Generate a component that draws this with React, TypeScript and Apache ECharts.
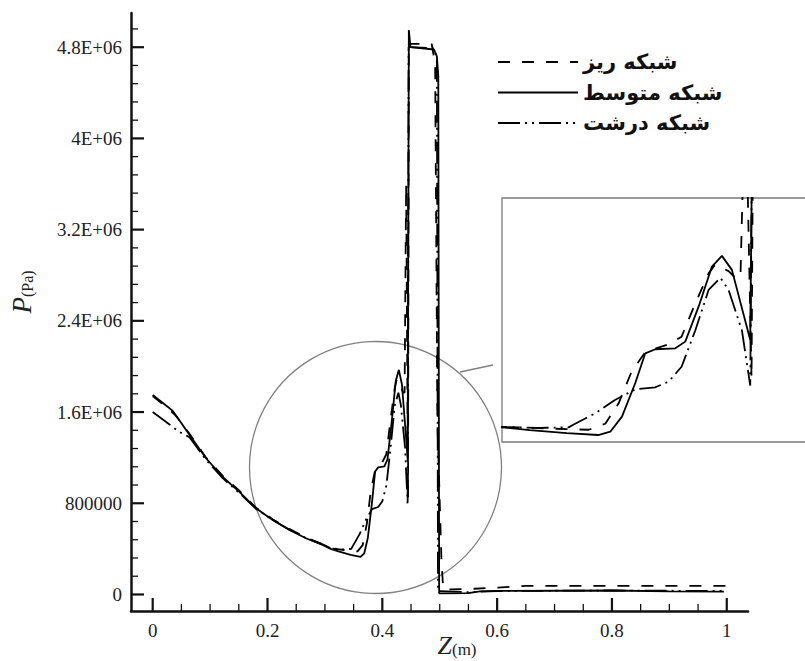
import React, { useEffect, useRef } from "react";
import * as echarts from "echarts";

// ---- data (Z in m, P in Pa) ----
const fineName = "شبکه ریز";
const mediumName = "شبکه متوسط";
const coarseName = "شبکه درشت";

const fineMesh: number[][] = [
  [0.0, 1.74e6], [0.02, 1.66e6], [0.04, 1.57e6], [0.064, 1.41e6], [0.093, 1.2e6],
  [0.122, 1.04e6], [0.151, 0.91e6], [0.18, 0.76e6], [0.209, 0.66e6], [0.238, 0.575e6],
  [0.267, 0.5e6], [0.296, 0.44e6], [0.31, 0.405e6], [0.3334, 0.39e6], [0.3568, 0.378e6],
  [0.3658, 0.433e6], [0.373, 0.62e6], [0.38, 0.91e6], [0.3874, 1.09e6], [0.4, 1.16e6],
  [0.407, 1.23e6], [0.4144, 1.535e6], [0.4216, 1.81e6], [0.4252, 1.89e6], [0.4324, 1.83e6],
  [0.436, 1.77e6], [0.4388, 1.77e6], [0.4415, 3.6e6], [0.4448, 0.85e6], [0.4462, 4.85e6],
  [0.448, 4.83e6], [0.486, 4.83e6], [0.492, 4.65e6], [0.496, 1.5e6], [0.503, 0.3e6],
  [0.506, 0.05e6], [0.515, 0.045e6], [0.56, 0.05e6], [0.6, 0.06e6], [0.65, 0.075e6],
  [1.005, 0.075e6],
];

const mediumMesh: number[][] = [
  [0.0, 1.75e6], [0.02, 1.67e6], [0.035, 1.61e6], [0.044, 1.545e6], [0.064, 1.4e6],
  [0.093, 1.195e6], [0.122, 1.03e6], [0.151, 0.9e6], [0.18, 0.756e6], [0.209, 0.653e6],
  [0.238, 0.566e6], [0.267, 0.493e6], [0.296, 0.434e6], [0.31, 0.4e6], [0.325, 0.375e6],
  [0.345, 0.348e6], [0.362, 0.33e6], [0.3685, 0.36e6], [0.3748, 0.498e6], [0.382, 0.806e6],
  [0.3874, 1.078e6], [0.3928, 1.115e6], [0.4036, 1.124e6], [0.409, 1.185e6], [0.4162, 1.505e6],
  [0.4234, 1.872e6], [0.4288, 1.97e6], [0.4342, 1.842e6], [0.4441, 1.2e6], [0.4462, 4.95e6],
  [0.449, 4.8e6], [0.49, 4.78e6], [0.495, 4.72e6], [0.4975, 4.55e6], [0.499, 0.01e6],
  [0.55, 0.012e6], [0.57, 0.028e6], [0.6, 0.032e6], [0.8, 0.035e6], [0.9, 0.028e6],
  [0.995, 0.025e6],
];

const coarseMesh: number[][] = [
  [0.0, 1.6e6], [0.027, 1.5e6], [0.045, 1.43e6], [0.064, 1.38e6], [0.093, 1.18e6],
  [0.122, 1.02e6], [0.151, 0.89e6], [0.18, 0.75e6], [0.209, 0.655e6], [0.238, 0.57e6],
  [0.267, 0.495e6], [0.296, 0.44e6], [0.31, 0.405e6], [0.33, 0.395e6], [0.346, 0.4e6],
  [0.348, 0.42e6], [0.3604, 0.529e6], [0.371, 0.65e6], [0.382, 0.749e6], [0.3928, 0.767e6],
  [0.4, 0.818e6], [0.407, 0.955e6], [0.4144, 1.287e6], [0.4216, 1.658e6], [0.428, 1.77e6],
  [0.4324, 1.658e6], [0.4396, 1.287e6], [0.4441, 0.783e6], [0.4458, 4.8e6], [0.449, 4.8e6],
  [0.49, 4.79e6], [0.495, 4.7e6], [0.497, 0.03e6], [0.55, 0.02e6], [0.6, 0.03e6],
  [0.8, 0.035e6], [1.0, 0.03e6],
];

const xTickValues = [0, 0.2, 0.4, 0.6, 0.8, 1.0];
const xTickLabels = ["0", "0.2", "0.4", "0.6", "0.8", "1"];
const xMinorValues = [0.05, 0.1, 0.15, 0.25, 0.3, 0.35, 0.45, 0.5, 0.55, 0.65, 0.7, 0.75, 0.85, 0.9, 0.95];
const yTickValues = [0, 800000, 1600000, 2400000, 3200000, 4000000, 4800000];
const yTickLabels = ["0", "800000", "1.6E+06", "2.4E+06", "3.2E+06", "4E+06", "4.8E+06"];
const yMinorValues = [
  160000, 320000, 480000, 640000, 960000, 1120000, 1280000, 1440000, 1760000, 1920000,
  2080000, 2240000, 2560000, 2720000, 2880000, 3040000, 3360000, 3520000, 3680000,
  3840000, 4160000, 4320000, 4480000, 4640000, 4960000,
];

const xRange = [-0.0378, 1.037];
const yRange = [-145000, 5100000];
const insetXRange = [0.31, 0.4753];
const insetYRange = [266000, 2500000];

const serif = "'Liberation Serif', 'Times New Roman', serif";
const sansBold = "'DejaVu Sans', sans-serif";
const dashFine = [12, 12];
const dashCoarse = [22, 5, 2, 5, 2, 5];

const legendEntries = [
  { name: fineName, dash: dashFine as number[] | null },
  { name: mediumName, dash: null },
  { name: coarseName, dash: dashCoarse as number[] | null },
];

export default function App() {
  const ref = useRef<HTMLDivElement>(null);
  useEffect(() => {
    if (!ref.current) return;
    const chart = echarts.init(ref.current, undefined, { renderer: "svg" });
    const mk = (name: string, data: number[][], type: any, idx: number) => ({
      type: "line",
      name,
      data,
      xAxisIndex: idx,
      yAxisIndex: idx,
      symbol: "none",
      clip: true,
      itemStyle: { color: "#000" },
      lineStyle: { color: "#000", width: 1.8, type },
      z: 5,
    });
    const hidden = { show: false };
    const legendGraphics: any[] = [];
    legendEntries.forEach((e, i) => {
      const y = 62 + i * 30.5;
      legendGraphics.push({
        type: "line", z: 10,
        shape: { x1: 498, y1: y, x2: 578, y2: y },
        style: { stroke: "#000", lineWidth: 1.8, lineDash: e.dash || undefined },
      });
      legendGraphics.push({
        type: "text", x: 583, y, z: 10,
        style: {
          text: e.name, align: "left", verticalAlign: "middle", fill: "#111",
          fontFamily: sansBold, fontWeight: "bold", fontSize: 21,
        },
      });
    });
    const baseGraphics: any[] = [
      {
        type: "circle", shape: { cx: 375.5, cy: 467.5, r: 126 }, z: 1,
        style: { fill: "none", stroke: "#808080", lineWidth: 1.3 },
      },
      {
        type: "line", shape: { x1: 460, y1: 372, x2: 493, y2: 365 }, z: 1,
        style: { stroke: "#808080", lineWidth: 1.3 },
      },
      ...legendGraphics,
      {
        type: "text", x: 457, y: 645, z: 10,
        style: {
          text: "{z|Z}{u|(m)}", align: "center", verticalAlign: "middle", fill: "#222",
          rich: {
            z: { fontSize: 26, fontStyle: "italic", fontFamily: serif, fill: "#222", verticalAlign: "bottom" },
            u: { fontSize: 17, fontFamily: serif, fill: "#222", verticalAlign: "bottom" },
          },
        },
      },
      {
        type: "text", x: 22, y: 292, rotation: Math.PI / 2, z: 10,
        style: {
          text: "{p|P}{u|(Pa)}", align: "center", verticalAlign: "middle", fill: "#222",
          rich: {
            p: { fontSize: 27, fontStyle: "italic", fontFamily: serif, fill: "#222", verticalAlign: "bottom" },
            u: { fontSize: 16, fontFamily: serif, fill: "#222", verticalAlign: "bottom" },
          },
        },
      },
    ];
    chart.setOption({
      animation: false,
      grid: [
        { left: 131, top: 13, width: 617, height: 598, outerBoundsMode: "none" },
        {
          left: 502, top: 198, width: 306, height: 244, show: true,
          borderColor: "#7a7a7a", borderWidth: 1.3, outerBoundsMode: "none",
        },
      ],
      xAxis: [
        {
          gridIndex: 0, type: "value", min: xRange[0], max: xRange[1],
          axisLine: { show: true, onZero: false, lineStyle: { color: "#111", width: 2.5 } },
          axisTick: hidden,
          axisLabel: {
            customValues: xTickValues, margin: 10, fontSize: 19, fontFamily: serif, color: "#222",
            formatter: (v: number) => xTickLabels[xTickValues.indexOf(v)] ?? "",
          },
          splitLine: hidden,
        },
        { gridIndex: 1, type: "value", min: insetXRange[0], max: insetXRange[1], show: false, splitLine: hidden },
      ],
      yAxis: [
        {
          gridIndex: 0, type: "value", min: yRange[0], max: yRange[1],
          axisLine: { show: true, onZero: false, lineStyle: { color: "#111", width: 2.5 } },
          axisTick: hidden,
          axisLabel: {
            customValues: yTickValues, margin: 9, fontSize: 19, fontFamily: serif, color: "#222",
            formatter: (v: number) => yTickLabels[yTickValues.indexOf(v)] ?? "",
          },
          splitLine: hidden,
        },
        { gridIndex: 1, type: "value", min: insetYRange[0], max: insetYRange[1], show: false, splitLine: hidden },
      ],
      series: [
        mk(fineName, fineMesh, dashFine, 0),
        mk(mediumName, mediumMesh, "solid", 0),
        mk(coarseName, coarseMesh, dashCoarse, 0),
        mk(fineName, fineMesh, dashFine, 1),
        mk(mediumName, mediumMesh, "solid", 1),
        mk(coarseName, coarseMesh, dashCoarse, 1),
      ],
      graphic: baseGraphics,
    });

    // tick marks placed through the axis scales (pointing into the plot, Tecplot style)
    const tickGraphics: any[] = [];
    const finder = { xAxisIndex: 0, yAxisIndex: 0 };
    const pushX = (v: number, len: number, w: number) => {
      const p = chart.convertToPixel(finder as any, [v, yRange[0]]) as number[];
      if (!p || !isFinite(p[0])) return;
      tickGraphics.push({
        type: "line", z: 100, silent: true,
        shape: { x1: p[0], y1: p[1], x2: p[0], y2: p[1] - len },
        style: { stroke: "#111", lineWidth: w },
      });
    };
    const pushY = (v: number, len: number, w: number) => {
      const p = chart.convertToPixel(finder as any, [xRange[0], v]) as number[];
      if (!p || !isFinite(p[1])) return;
      tickGraphics.push({
        type: "line", z: 100, silent: true,
        shape: { x1: p[0], y1: p[1], x2: p[0] + len, y2: p[1] },
        style: { stroke: "#111", lineWidth: w },
      });
    };
    xTickValues.forEach((v) => pushX(v, 13, 2.2));
    xMinorValues.forEach((v) => pushX(v, 7, 1.3));
    yTickValues.forEach((v) => pushY(v, 13, 2.2));
    yMinorValues.forEach((v) => pushY(v, 7, 1.3));
    chart.setOption({ graphic: [...baseGraphics, ...tickGraphics] });

    return () => chart.dispose();
  }, []);
  return (
    <div
      ref={ref}
      style={{ position: "fixed", left: 0, top: 0, width: 805, height: 661, background: "#fff" }}
    />
  );
}
